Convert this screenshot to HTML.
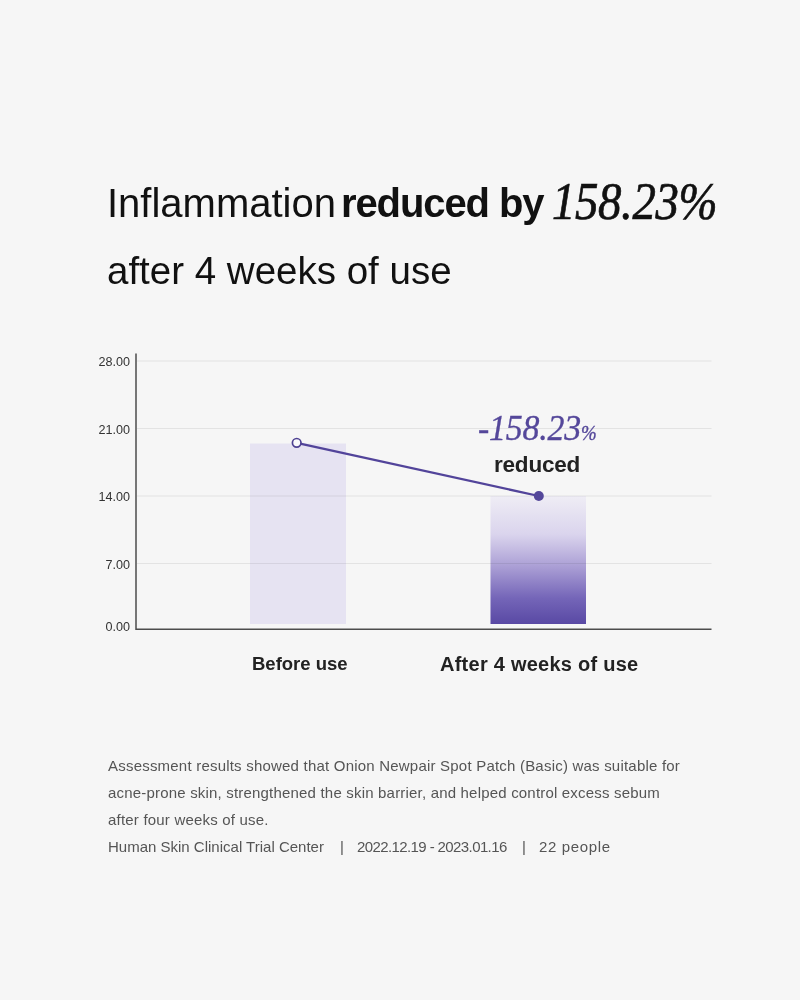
<!DOCTYPE html>
<html><head><meta charset="utf-8">
<style>
html,body{margin:0;padding:0;}
body{width:800px;height:1000px;background:#f6f6f6;position:relative;overflow:hidden;font-family:"Liberation Sans",sans-serif;color:#111;}
.abs{position:absolute;white-space:pre;line-height:1;}
#t2{left:107px;top:252px;font-size:38.5px;}
.yl{position:absolute;font-size:12.6px;color:#333;text-align:right;width:60px;left:70px;line-height:1;letter-spacing:0px;}
.xl{position:absolute;font-weight:bold;font-size:19px;color:#222;line-height:1;white-space:pre;}
.foot{position:absolute;left:108px;font-size:15px;color:#555;white-space:pre;line-height:1;letter-spacing:0.2px;}
</style></head>
<body>
<div class="abs" id="t1a" style="left:107px;top:182.5px;font-size:40px;">Inflammation</div>
<div class="abs" id="t1b" style="left:341px;top:182.5px;font-size:40px;font-weight:bold;letter-spacing:-1.1px;">reduced by</div>
<div class="abs" id="t1c" style="left:552px;top:176px;font-size:52px;font-family:'Liberation Serif',serif;font-style:italic;letter-spacing:-0.4px;-webkit-text-stroke:0.7px #111;transform:scaleX(0.9);transform-origin:0 0;">158.23%</div>
<div class="abs" id="t2">after 4 weeks of use</div>

<svg width="800" height="1000" style="position:absolute;left:0;top:0">
  <defs>
    <linearGradient id="g2" x1="0" y1="0" x2="0" y2="1">
      <stop offset="0" stop-color="#efedf5"/>
      <stop offset="0.3" stop-color="#dad4ed"/>
      <stop offset="0.55" stop-color="#ab9fd5"/>
      <stop offset="0.8" stop-color="#7465b8"/>
      <stop offset="1" stop-color="#5949a4"/>
    </linearGradient>
  </defs>
  <rect x="250" y="443.5" width="96" height="180.5" fill="#e6e3f2"/>
  <rect x="490.5" y="496" width="95.5" height="128" fill="url(#g2)"/>
  <g stroke="#ececec" stroke-width="1.1" style="mix-blend-mode:multiply">
    <line x1="137" y1="361" x2="711.5" y2="361"/>
    <line x1="137" y1="428.5" x2="711.5" y2="428.5"/>
    <line x1="137" y1="496" x2="711.5" y2="496"/>
    <line x1="137" y1="563.5" x2="711.5" y2="563.5"/>
  </g>
  <path d="M136 353.5 V629.3 H711.5" fill="none" stroke="#4c4c4c" stroke-width="1.5"/>
  <line x1="296.7" y1="442.8" x2="538.8" y2="496" stroke="#52449a" stroke-width="2.3"/>
  <circle cx="296.7" cy="442.8" r="4.3" fill="#f9f9fb" stroke="#4e4192" stroke-width="1.7"/>
  <circle cx="538.8" cy="496" r="5" fill="#54479a"/>
</svg>

<div class="yl" style="top:356px">28.00</div>
<div class="yl" style="top:423.5px">21.00</div>
<div class="yl" style="top:491px">14.00</div>
<div class="yl" style="top:558.5px">7.00</div>
<div class="yl" style="top:621px">0.00</div>

<div class="abs" id="pct" style="left:478px;top:410px;font-family:'Liberation Serif',serif;font-style:italic;font-size:36px;color:#54479a;letter-spacing:-0.2px;-webkit-text-stroke:0.35px #54479a;transform:scaleX(0.94);transform-origin:0 0;">-158.23<span style="font-size:20px;letter-spacing:0">%</span></div>
<div class="abs" id="red" style="left:494px;top:453.5px;font-size:22.5px;font-weight:bold;color:#222;letter-spacing:-0.2px;">reduced</div>

<div class="xl" style="left:252px;top:655px;font-size:18.5px;">Before use</div>
<div class="xl" style="left:440px;top:654px;font-size:20px;letter-spacing:0.25px;">After 4 weeks of use</div>

<div class="foot" style="top:758.3px;letter-spacing:0.21px">Assessment results showed that Onion Newpair Spot Patch (Basic) was suitable for</div>
<div class="foot" style="top:785px;letter-spacing:0.19px">acne-prone skin, strengthened the skin barrier, and helped control excess sebum</div>
<div class="foot" style="top:811.5px">after four weeks of use.</div>
<div class="foot" style="top:838.5px;letter-spacing:0">Human Skin Clinical Trial Center</div>
<div class="foot" style="top:838.5px;left:340px;letter-spacing:0">|</div>
<div class="foot" style="top:838.5px;left:357px;letter-spacing:-0.6px">2022.12.19 - 2023.01.16</div>
<div class="foot" style="top:838.5px;left:522px;letter-spacing:0">|</div>
<div class="foot" style="top:838.5px;left:539px;letter-spacing:0.65px">22 people</div>
</body></html>
